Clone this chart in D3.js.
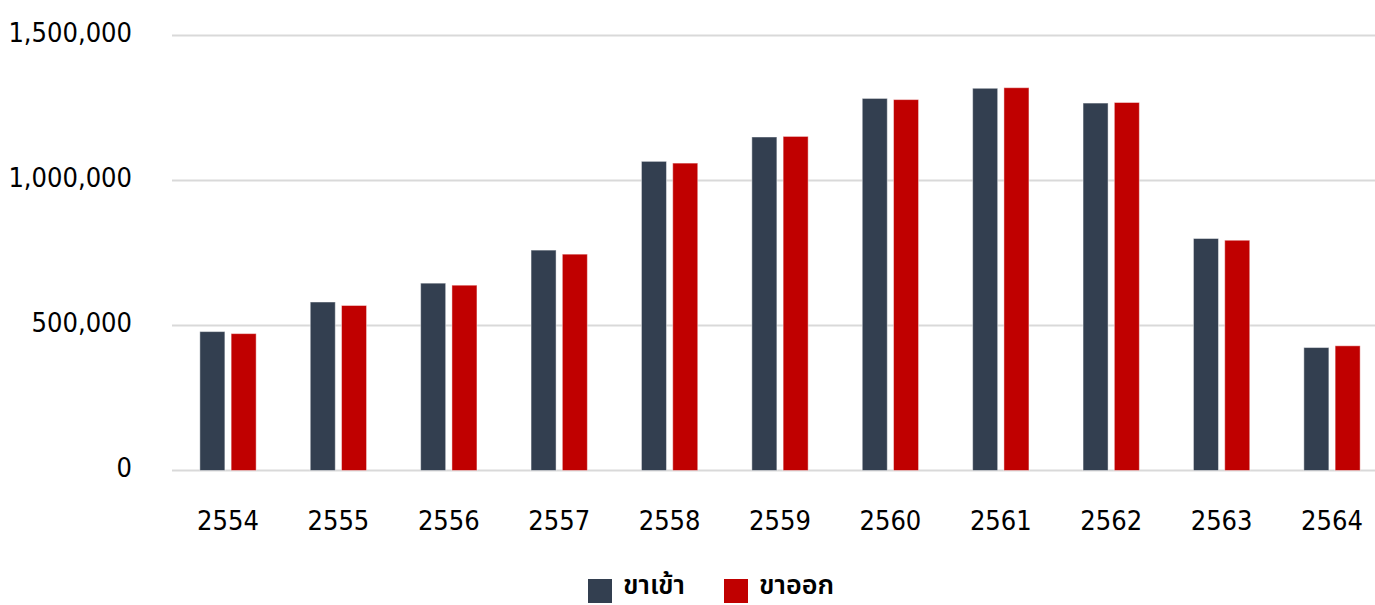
<!DOCTYPE html>
<html>
<head>
<meta charset="utf-8">
<script src="https://cdn.jsdelivr.net/npm/d3@7"></script>
<style>
  html, body { margin: 0; padding: 0; background: #ffffff; }
  svg { display: block; }
  .lbl { font-family: "DejaVu Sans", "Noto Sans", sans-serif; font-stretch: condensed; fill: #000; }
  .leg { font-family: "Noto Sans Thai", "Noto Sans", "DejaVu Sans", sans-serif; fill: #000; }
</style>
</head>
<body>
<svg id="chart" width="1375" height="605"></svg>
<script>
const years = ["2554","2555","2556","2557","2558","2559","2560","2561","2562","2563","2564"];
const seriesNames = ["ขาเข้า", "ขาออก"];
const inbound  = [479000, 581000, 646000, 760000, 1066000, 1150000, 1283000, 1318000, 1267000, 800000, 424000];
const outbound = [472000, 569000, 639000, 746000, 1060000, 1152000, 1279000, 1320000, 1269000, 794000, 430000];
const yTicks = [0, 500000, 1000000, 1500000];
const colors = ["#333F50", "#C00000"];

const svg = d3.select("#chart");
const W = 1375, H = 605;

const x0 = d3.scaleBand().domain(years).range([172.8, 1387.2]).paddingInner(0.49).paddingOuter(0.245);
const x1 = d3.scaleBand().domain(seriesNames).range([0, x0.bandwidth()]).paddingInner(0.2).paddingOuter(0);
const y = d3.scaleLinear().domain([0, 1500000]).range([470.5, 35.5]);
const color = d3.scaleOrdinal().domain(seriesNames).range(colors);

// gridlines
svg.append("g").selectAll("line").data(yTicks).join("line")
  .attr("x1", 172).attr("x2", W)
  .attr("y1", d => y(d)).attr("y2", d => y(d))
  .attr("stroke", "#d9d9d9").attr("stroke-width", 2);

// y labels
const yAxis = d3.axisLeft(y).tickValues(yTicks).tickFormat(d3.format(",")).tickSize(0).tickPadding(0);
const ya = svg.append("g").attr("transform", "translate(132,0)").call(yAxis);
ya.attr("font-family", null).attr("font-size", null);
ya.select(".domain").remove();
ya.selectAll("text").attr("class", "lbl").attr("font-size", 27).attr("dy", 6).attr("fill", "#000");

// x labels
const xAxis = d3.axisBottom(x0).tickSize(0).tickPadding(0);
const xa = svg.append("g").attr("transform", "translate(0,530)").call(xAxis);
xa.attr("font-family", null).attr("font-size", null);
xa.select(".domain").remove();
xa.selectAll("text").attr("class", "lbl").attr("font-size", 27).attr("dy", 0).attr("y", 0).attr("fill", "#000");

// bars
const data = years.map((yr, i) => ({ year: yr, values: [
  { name: seriesNames[0], v: inbound[i] },
  { name: seriesNames[1], v: outbound[i] }
]}));

svg.append("g").selectAll("g").data(data).join("g")
  .attr("transform", d => `translate(${x0(d.year)},0)`)
  .selectAll("rect").data(d => d.values).join("rect")
  .attr("x", d => x1(d.name))
  .attr("width", x1.bandwidth())
  .attr("y", d => y(d.v))
  .attr("height", d => y(0) - y(d.v))
  .attr("fill", d => color(d.name))
  .attr("stroke", "rgba(255,255,255,0.45)")
  .attr("stroke-width", 1);

// legend
const legend = svg.append("g");
const legX = [588, 724];
seriesNames.forEach((s, i) => {
  const g = legend.append("g").attr("transform", `translate(${legX[i]},579)`);
  g.append("rect").attr("width", 24).attr("height", 24).attr("fill", colors[i]);
  g.append("text").attr("class", "leg").attr("x", 35).attr("y", 15)
    .attr("font-size", 27).attr("font-weight", 600).text(s);
});
</script>
</body>
</html>
